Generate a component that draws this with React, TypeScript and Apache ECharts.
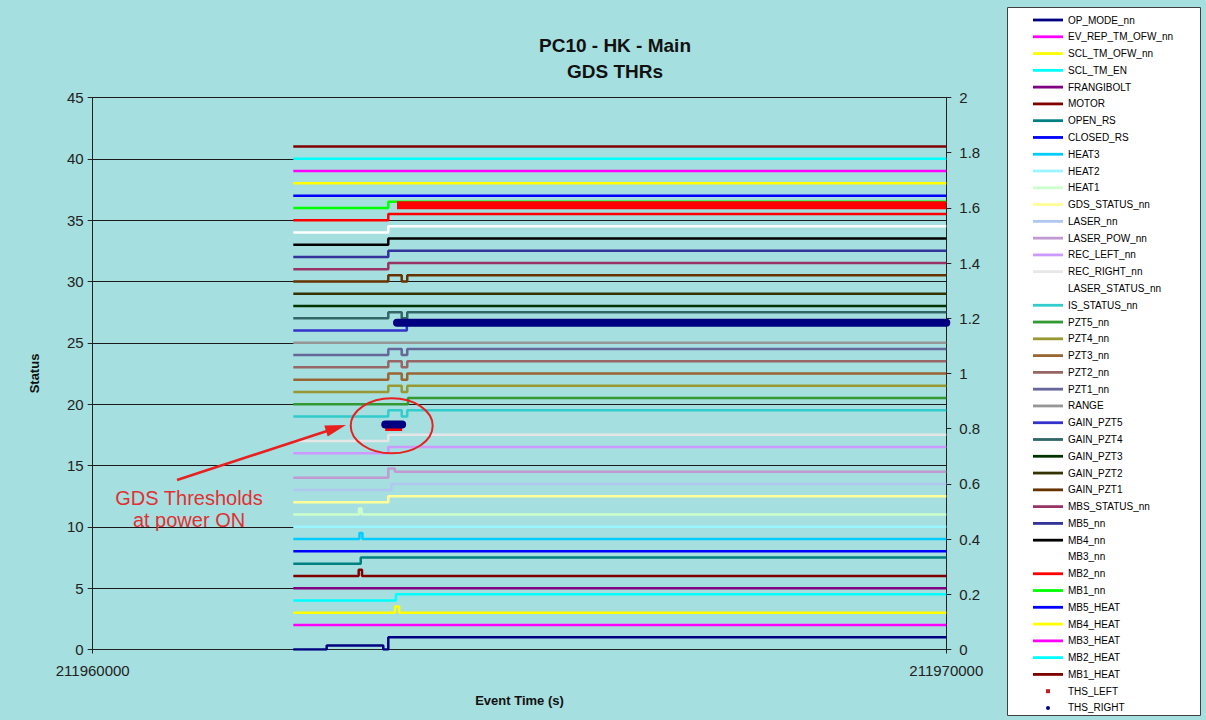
import React, { useEffect, useRef } from "react";
import * as echarts from "echarts";

// ---------- DATA ----------
const xRange = [211960000, 211970000];
const leftAxisRange = [0, 45];
const rightAxisRange = [0, 2];

const lineNames = [
  "OP_MODE_nn", "EV_REP_TM_OFW_nn", "SCL_TM_OFW_nn", "SCL_TM_EN", "FRANGIBOLT", "MOTOR",
  "OPEN_RS", "CLOSED_RS", "HEAT3", "HEAT2", "HEAT1", "GDS_STATUS_nn", "LASER_nn",
  "LASER_POW_nn", "REC_LEFT_nn", "REC_RIGHT_nn", "LASER_STATUS_nn", "IS_STATUS_nn",
  "PZT5_nn", "PZT4_nn", "PZT3_nn", "PZT2_nn", "PZT1_nn", "RANGE", "GAIN_PZT5",
  "GAIN_PZT4", "GAIN_PZT3", "GAIN_PZT2", "GAIN_PZT1", "MBS_STATUS_nn", "MB5_nn",
  "MB4_nn", "MB3_nn", "MB2_nn", "MB1_nn", "MB5_HEAT", "MB4_HEAT", "MB3_HEAT",
  "MB2_HEAT", "MB1_HEAT",
];
const thsNames = ["THS_LEFT", "THS_RIGHT"];

// [event time, status] change points (step lines)
const OP_MODE_nn = [[211962350, 0], [211962741, 0.33], [211963404, 0], [211963463, 1], [211970000, 1]];
const EV_REP_TM_OFW_nn = [[211962350, 2], [211970000, 2]];
const SCL_TM_OFW_nn = [[211962350, 3], [211963542, 3.5], [211963590, 3], [211970000, 3]];
const SCL_TM_EN = [[211962350, 4], [211963553, 4.5], [211970000, 4.5]];
const FRANGIBOLT = [[211962350, 5], [211970000, 5]];
const MOTOR = [[211962350, 6], [211963116, 6.5], [211963155, 6], [211970000, 6]];
const OPEN_RS = [[211962350, 7], [211963140, 7.5], [211970000, 7.5]];
const CLOSED_RS = [[211962350, 8], [211970000, 8]];
const HEAT3 = [[211962350, 9], [211963125, 9.5], [211963160, 9], [211970000, 9]];
const HEAT2 = [[211962350, 10], [211970000, 10]];
const HEAT1 = [[211962350, 11], [211963120, 11.5], [211963150, 11], [211970000, 11]];
const GDS_STATUS_nn = [[211962350, 12], [211963463, 12.5], [211970000, 12.5]];
const LASER_nn = [[211962350, 13], [211963500, 13.5], [211970000, 13.5]];
const LASER_POW_nn = [[211962350, 14], [211963463, 14.75], [211963540, 14.5], [211970000, 14.5]];
const REC_LEFT_nn = [[211962350, 16], [211963463, 16.5], [211970000, 16.5]];
const REC_RIGHT_nn = [[211962350, 17], [211963463, 17.5], [211970000, 17.5]];
const LASER_STATUS_nn = [[211962350, 18], [211970000, 18]];
const IS_STATUS_nn = [[211962350, 19], [211963463, 19.5], [211963620, 19], [211963685, 19.5], [211970000, 19.5]];
const PZT5_nn = [[211962350, 20], [211963694, 20.5], [211970000, 20.5]];
const PZT4_nn = [[211962350, 21], [211963463, 21.5], [211963620, 21], [211963685, 21.5], [211970000, 21.5]];
const PZT3_nn = [[211962350, 22], [211963463, 22.5], [211963620, 22], [211963685, 22.5], [211970000, 22.5]];
const PZT2_nn = [[211962350, 23], [211963463, 23.5], [211963620, 23], [211963685, 23.5], [211970000, 23.5]];
const PZT1_nn = [[211962350, 24], [211963463, 24.5], [211963620, 24], [211963685, 24.5], [211970000, 24.5]];
const RANGE = [[211962350, 25], [211970000, 25]];
const GAIN_PZT5 = [[211962350, 26], [211963680, 26.5], [211970000, 26.5]];
const GAIN_PZT4 = [[211962350, 27], [211963463, 27.5], [211963620, 27], [211963685, 27.5], [211970000, 27.5]];
const GAIN_PZT3 = [[211962350, 28], [211970000, 28]];
const GAIN_PZT2 = [[211962350, 29], [211970000, 29]];
const GAIN_PZT1 = [[211962350, 30], [211963463, 30.5], [211963620, 30], [211963685, 30.5], [211970000, 30.5]];
const MBS_STATUS_nn = [[211962350, 31], [211963463, 31.5], [211970000, 31.5]];
const MB5_nn = [[211962350, 32], [211963463, 32.5], [211970000, 32.5]];
const MB4_nn = [[211962350, 33], [211963463, 33.5], [211970000, 33.5]];
const MB3_nn = [[211962350, 34], [211963463, 34.5], [211970000, 34.5]];
const MB2_nn = [[211962350, 35], [211963463, 35.5], [211970000, 35.5]];
const MB1_nn = [[211962350, 36], [211963463, 36.5], [211970000, 36.5]];
const MB5_HEAT = [[211962350, 37], [211970000, 37]];
const MB4_HEAT = [[211962350, 38], [211970000, 38]];
const MB3_HEAT = [[211962350, 39], [211970000, 39]];
const MB2_HEAT = [[211962350, 40], [211970000, 40]];
const MB1_HEAT = [[211962350, 41], [211970000, 41]];

// thresholds (right axis); null breaks the run
const THS_LEFT = [[211963427, 0.806], [211963625, 0.806], [211963626, null], [211963565, 1.61], [211970000, 1.61]];
const THS_RIGHT = [[211963427, 0.815], [211963625, 0.815], [211963626, null], [211963565, 1.184], [211970000, 1.184]];

const lineData = [
  OP_MODE_nn, EV_REP_TM_OFW_nn, SCL_TM_OFW_nn, SCL_TM_EN, FRANGIBOLT, MOTOR, OPEN_RS,
  CLOSED_RS, HEAT3, HEAT2, HEAT1, GDS_STATUS_nn, LASER_nn, LASER_POW_nn, REC_LEFT_nn,
  REC_RIGHT_nn, LASER_STATUS_nn, IS_STATUS_nn, PZT5_nn, PZT4_nn, PZT3_nn, PZT2_nn,
  PZT1_nn, RANGE, GAIN_PZT5, GAIN_PZT4, GAIN_PZT3, GAIN_PZT2, GAIN_PZT1, MBS_STATUS_nn,
  MB5_nn, MB4_nn, MB3_nn, MB2_nn, MB1_nn, MB5_HEAT, MB4_HEAT, MB3_HEAT, MB2_HEAT, MB1_HEAT,
];
const thsData = [THS_LEFT, THS_RIGHT];

// ---------- STYLE ----------
const lineColors = [
  "#000080", "#ff00ff", "#ffff00", "#00ffff", "#800080", "#800000", "#008080", "#0000ff",
  "#00ccff", "#99f5ff", "#ccffcc", "#ffff99", "#b0c8f0", "#c09ad0", "#cc99ff", "#e6e6e6",
  "rgba(0,0,0,0)", "#33cccc", "#339933", "#999933", "#996633", "#996666", "#666699",
  "#969696", "#3333cc", "#336666", "#003300", "#333300", "#663300", "#993366", "#333399",
  "#000000", "#ffffff", "#ff0000", "#00ff00", "#0000ff", "#ffff00", "#ff00ff", "#00ffff",
  "#800000",
];
const thsColors = ["#ff0000", "#000080"];
const FONT = "Liberation Sans, Arial, sans-serif";
const BG = "#a6dfdf";

export default function App() {
  const ref = useRef<HTMLDivElement>(null);

  useEffect(() => {
    if (!ref.current) return;
    const chart = echarts.init(ref.current, null, { renderer: "svg" });

    const series: any[] = lineNames.map((name, i) => ({
      name,
      type: "line",
      step: "end",
      symbol: "none",
      yAxisIndex: 0,
      data: lineData[i],
      lineStyle: { color: lineColors[i], width: 2.5 },
      itemStyle: { color: lineColors[i] },
      silent: true,
    }));
    thsNames.forEach((name, i) => {
      series.push({
        name,
        type: "line",
        symbol: "none",
        yAxisIndex: 1,
        connectNulls: false,
        data: thsData[i],
        lineStyle: { color: thsColors[i], width: 8, cap: i === 0 ? "butt" : "round" },
        itemStyle: { color: thsColors[i] },
        silent: true,
        z: 3,
      });
    });

    const barIcon = "path://M0,0M30,12M0,4.6h30v2.8h-30z";
    const legendData = [
      ...lineNames.map((name, i) => ({ name, icon: barIcon, itemStyle: { color: lineColors[i] } })),
      { name: "THS_LEFT", icon: "path://M0,0M30,12M13,4h4v4h-4z", itemStyle: { color: "#c02020" } },
      { name: "THS_RIGHT", icon: "path://M0,0M30,12M13,6a2,2 0 1,0 4,0a2,2 0 1,0 -4,0z", itemStyle: { color: "#000080" } },
    ];

    chart.setOption({
      animation: false,
      backgroundColor: BG,
      textStyle: { fontFamily: FONT },
      title: {
        text: "PC10 - HK - Main\nGDS THRs",
        left: 610,
        top: 27,
        textAlign: "center",
        textStyle: { fontSize: 19, fontWeight: "bold", color: "#111", lineHeight: 26, fontFamily: FONT },
      },
      grid: { left: 92.7, right: 259.7, top: 97.5, bottom: 70.5, containLabel: false },
      legend: {
        orient: "vertical",
        left: 1033,
        top: 14,
        height: 708,
        padding: 0,
        itemWidth: 30,
        itemHeight: 12,
        itemGap: 4.78,
        selectedMode: false,
        data: legendData,
        textStyle: { fontSize: 10, color: "#000", fontFamily: FONT },
      },
      xAxis: {
        type: "value",
        min: xRange[0],
        max: xRange[1],
        interval: 10000,
        name: "Event Time (s)",
        nameLocation: "middle",
        nameGap: 44,
        nameTextStyle: { fontSize: 13, fontWeight: "bold", color: "#111", fontFamily: FONT },
        axisLine: { show: true, onZero: false, lineStyle: { color: "#222", width: 1 } },
        axisTick: { show: true, length: 4, lineStyle: { color: "#222" } },
        axisLabel: { fontSize: 15, color: "#222", margin: 13, formatter: (v: number) => String(v) },
        splitLine: { show: false },
      },
      yAxis: [
        {
          type: "value",
          min: leftAxisRange[0],
          max: leftAxisRange[1],
          interval: 5,
          name: "Status",
          nameLocation: "middle",
          nameGap: 52,
          nameRotate: 90,
          nameTextStyle: { fontSize: 13, fontWeight: "bold", color: "#111", fontFamily: FONT },
          axisLine: { show: true, lineStyle: { color: "#222", width: 1 } },
          axisTick: { show: true, length: 5, lineStyle: { color: "#222" } },
          axisLabel: { fontSize: 15, color: "#222", margin: 9 },
          splitLine: { show: true, lineStyle: { color: "#1a1a1a", width: 1 } },
        },
        {
          type: "value",
          position: "right",
          min: rightAxisRange[0],
          max: rightAxisRange[1],
          interval: 0.2,
          axisLine: { show: true, lineStyle: { color: "#222", width: 1 } },
          axisTick: { show: true, length: 5, lineStyle: { color: "#222" } },
          axisLabel: { fontSize: 15, color: "#222", margin: 13 },
          splitLine: { show: false },
        },
      ],
      graphic: [
        {
          type: "rect",
          z: 1,
          silent: true,
          shape: { x: 1007.5, y: 7.5, width: 193, height: 708 },
          style: { fill: "#ffffff", stroke: "#404040", lineWidth: 1 },
        },
        {
          type: "text",
          z: 50,
          x: 189,
          y: 509,
          silent: true,
          style: {
            text: "GDS Thresholds\nat power ON",
            fill: "#e03035",
            fontSize: 20,
            lineHeight: 22,
            fontFamily: FONT,
            align: "center",
            verticalAlign: "middle",
          },
        },
        {
          type: "ellipse",
          z: 50,
          silent: true,
          shape: { cx: 391.7, cy: 425.8, rx: 41, ry: 27.5 },
          style: { fill: "none", stroke: "#e82020", lineWidth: 2 },
        },
        {
          type: "line",
          z: 50,
          silent: true,
          shape: { x1: 177, y1: 480, x2: 330, y2: 430 },
          style: { stroke: "#e82020", lineWidth: 2.5 },
        },
        {
          type: "polygon",
          z: 50,
          silent: true,
          shape: { points: [[346, 425], [327.7, 436.4], [324.3, 425.5]] },
          style: { fill: "#e82020" },
        },
      ],
      series,
    });

    return () => chart.dispose();
  }, []);

  return (
    <div
      ref={ref}
      style={{ position: "fixed", left: 0, top: 0, width: 1206, height: 720 }}
    />
  );
}
